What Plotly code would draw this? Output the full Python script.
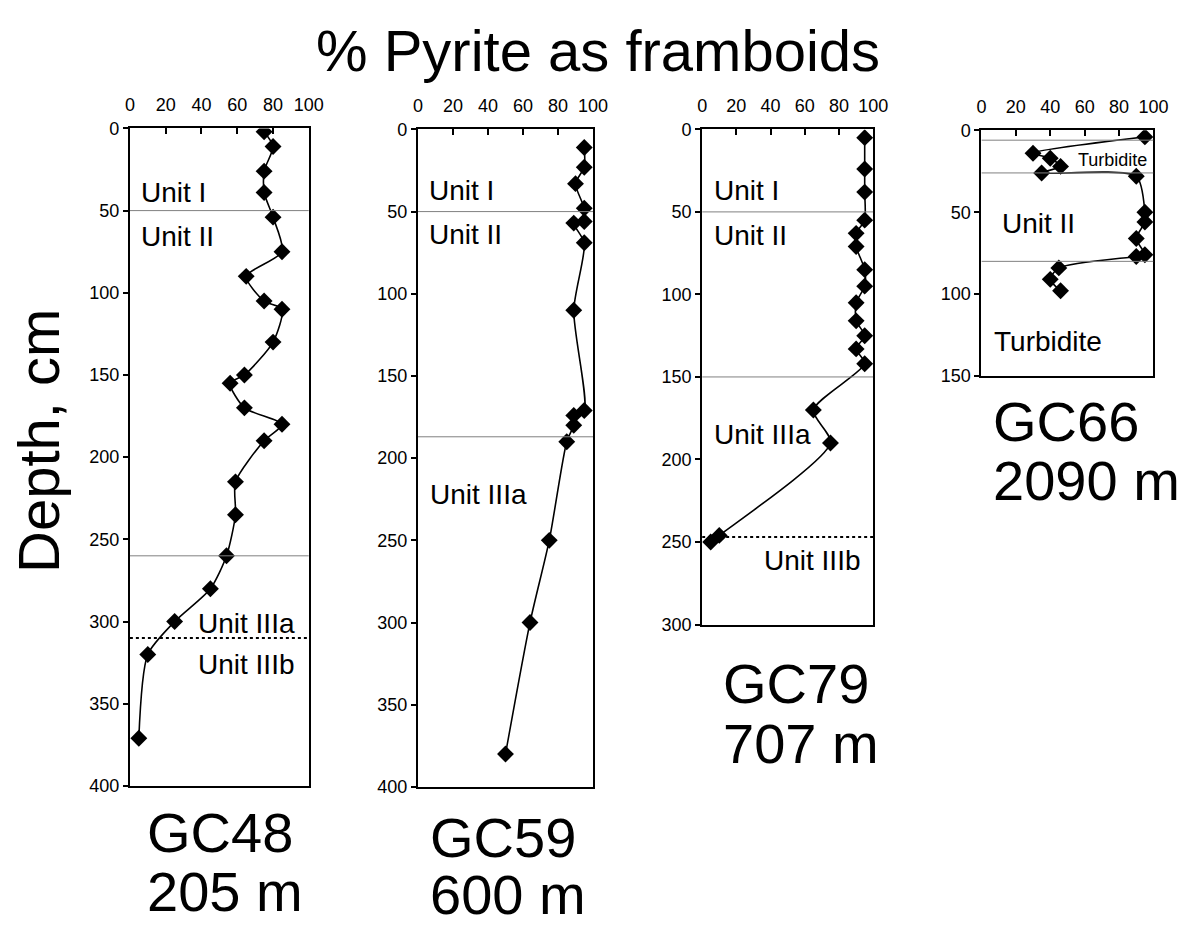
import plotly.graph_objects as go

FONT = "Liberation Sans, Arial, sans-serif"

# ---------------- data ----------------
gc48_pct = [75, 80, 75, 75, 80, 85, 65, 75, 85, 80, 64, 56, 64, 85, 75, 59, 59, 54, 45, 25, 10, 5]
gc48_depth = [2, 11, 26, 39, 54, 75, 90, 105, 110, 130, 150, 155, 170, 180, 190, 215, 235, 260, 280, 300, 320, 371]

gc59_pct = [95, 95, 90, 95, 95, 89, 95, 89, 95, 89, 89, 85, 75, 64, 50]
gc59_depth = [11, 23, 33, 48, 56, 57, 69, 110, 171, 174, 180, 190, 250, 300, 380]

gc79_pct = [95, 95, 95, 95, 90, 90, 95, 95, 90, 90, 95, 90, 95, 65, 75, 10, 5]
gc79_depth = [5, 24, 38, 55, 63, 71, 85, 95, 105, 116, 125, 133, 142, 170, 190, 246, 250]

gc66_pct = [95, 30, 40, 46, 35, 90, 95, 95, 90, 95, 90, 45, 40, 46]
gc66_depth = [4, 14, 17, 22, 26, 28, 50, 56, 66, 76, 77, 84, 91, 98]

# unit boundaries (solid thin) and dashed boundaries
gc48_bounds = [50, 260]
gc48_dashed = [310]
gc59_bounds = [50, 187]
gc59_dashed = []
gc79_bounds = [50, 150]
gc79_dashed = [247]
gc66_bounds = [6, 26, 80]
gc66_dashed = []

# unit labels: (text, x %, depth cm, size)
gc48_labels = [("Unit I", 5, 39, 28), ("Unit II", 5, 66, 28), ("Unit IIIa", 37, 301, 28), ("Unit IIIb", 37, 326, 28)]
gc59_labels = [("Unit I", 5, 37, 28), ("Unit II", 5, 64, 28), ("Unit IIIa", 6, 222, 28)]
gc79_labels = [("Unit I", 6, 37, 28), ("Unit II", 6, 64, 28), ("Unit IIIa", 6, 185, 28), ("Unit IIIb", 35, 261, 28)]
gc66_labels = [("Turbidite", 55, 18, 18), ("Unit II", 11, 57, 28), ("Turbidite", 6, 129, 28)]

x_ticks = [0, 20, 40, 60, 80, 100]

cores = ["GC48", "GC59", "GC79", "GC66"]
water_depths = ["205 m", "600 m", "707 m", "2090 m"]
depth_max = [400, 400, 300, 150]

W, H = 1197, 931
# panel boxes in pixels (left, right, top, bottom)
boxes = [(127, 309, 121, 793), (420, 598, 122, 794), (709, 883, 122, 628), (993, 1168, 123, 374)]
# core name label positions (left x, center y of first line, line step)
name_pos = [(142, 841, 60), (430, 846, 58), (728, 688, 62), (1003, 421, 60)]

series = [
    (gc48_pct, gc48_depth, gc48_bounds, gc48_dashed, gc48_labels),
    (gc59_pct, gc59_depth, gc59_bounds, gc59_dashed, gc59_labels),
    (gc79_pct, gc79_depth, gc79_bounds, gc79_dashed, gc79_labels),
    (gc66_pct, gc66_depth, gc66_bounds, gc66_dashed, gc66_labels),
]

fig = go.Figure()
shapes = []
annotations = []

for i, (pct, dep, bounds, dashed, labels) in enumerate(series):
    n = "" if i == 0 else str(i + 1)
    xa, ya = "x" + n, "y" + n
    fig.add_trace(go.Scatter(
        x=pct, y=dep, xaxis=xa, yaxis=ya, mode="lines+markers",
        line=dict(color="black", width=1.6, shape="spline", smoothing=0.7),
        marker=dict(symbol="diamond", size=13, color="black"),
        showlegend=False, hoverinfo="skip",
    ))
    l, r, t, b = boxes[i]
    dom_x = [l / W, r / W]
    dom_y = [1 - b / H, 1 - t / H]
    axis_common = dict(showgrid=False, zeroline=False, showline=True, linecolor="black",
                       linewidth=2, mirror=True, tickcolor="black",
                       tickfont=dict(family=FONT, size=18, color="black"))
    fig.update_layout(**{
        ("xaxis" + n): dict(domain=dom_x, range=[0, 100], side="top", tickvals=x_ticks,
                            ticks="inside", ticklen=6, tickwidth=1.5, anchor=ya,
                            ticklabelstandoff=8, **axis_common),
        ("yaxis" + n): dict(domain=dom_y, range=[depth_max[i], 0], dtick=50,
                            ticks="outside", ticklen=5, tickwidth=1.5, anchor=xa, **axis_common),
    })
    for yb in bounds:
        shapes.append(dict(type="line", xref=xa, yref=ya, x0=0, x1=100, y0=yb, y1=yb,
                           line=dict(color="#808080", width=1)))
    for yb in dashed:
        shapes.append(dict(type="line", xref=xa, yref=ya, x0=0, x1=100, y0=yb, y1=yb,
                           line=dict(color="black", width=2, dash="dot")))
    for txt, lx, ly, sz in labels:
        annotations.append(dict(text=txt, x=lx, y=ly, xref=xa, yref=ya, xanchor="left",
                                yanchor="middle", showarrow=False,
                                font=dict(family=FONT, size=sz, color="black")))
    nx, ny, step = name_pos[i]
    for k, txt in enumerate([cores[i], water_depths[i]]):
        annotations.append(dict(text=txt, x=nx / W, y=1 - (ny + k * step) / H, xref="paper",
                                yref="paper", xanchor="left", yanchor="middle", showarrow=False,
                                font=dict(family=FONT, size=56, color="black")))

annotations.append(dict(text="% Pyrite as framboids", x=603 / W, y=1 - 41 / H, xref="paper",
                        yref="paper", xanchor="center", yanchor="middle", showarrow=False,
                        font=dict(family=FONT, size=58, color="black")))
annotations.append(dict(text="Depth, cm", x=34 / W, y=1 - 440 / H, xref="paper", yref="paper",
                        xanchor="center", yanchor="middle", textangle=-90, showarrow=False,
                        font=dict(family=FONT, size=58, color="black")))

fig.update_layout(width=W, height=H, margin=dict(l=0, r=0, t=0, b=0),
                  paper_bgcolor="white", plot_bgcolor="white",
                  shapes=shapes, annotations=annotations)

fig.write_html("out.html")
